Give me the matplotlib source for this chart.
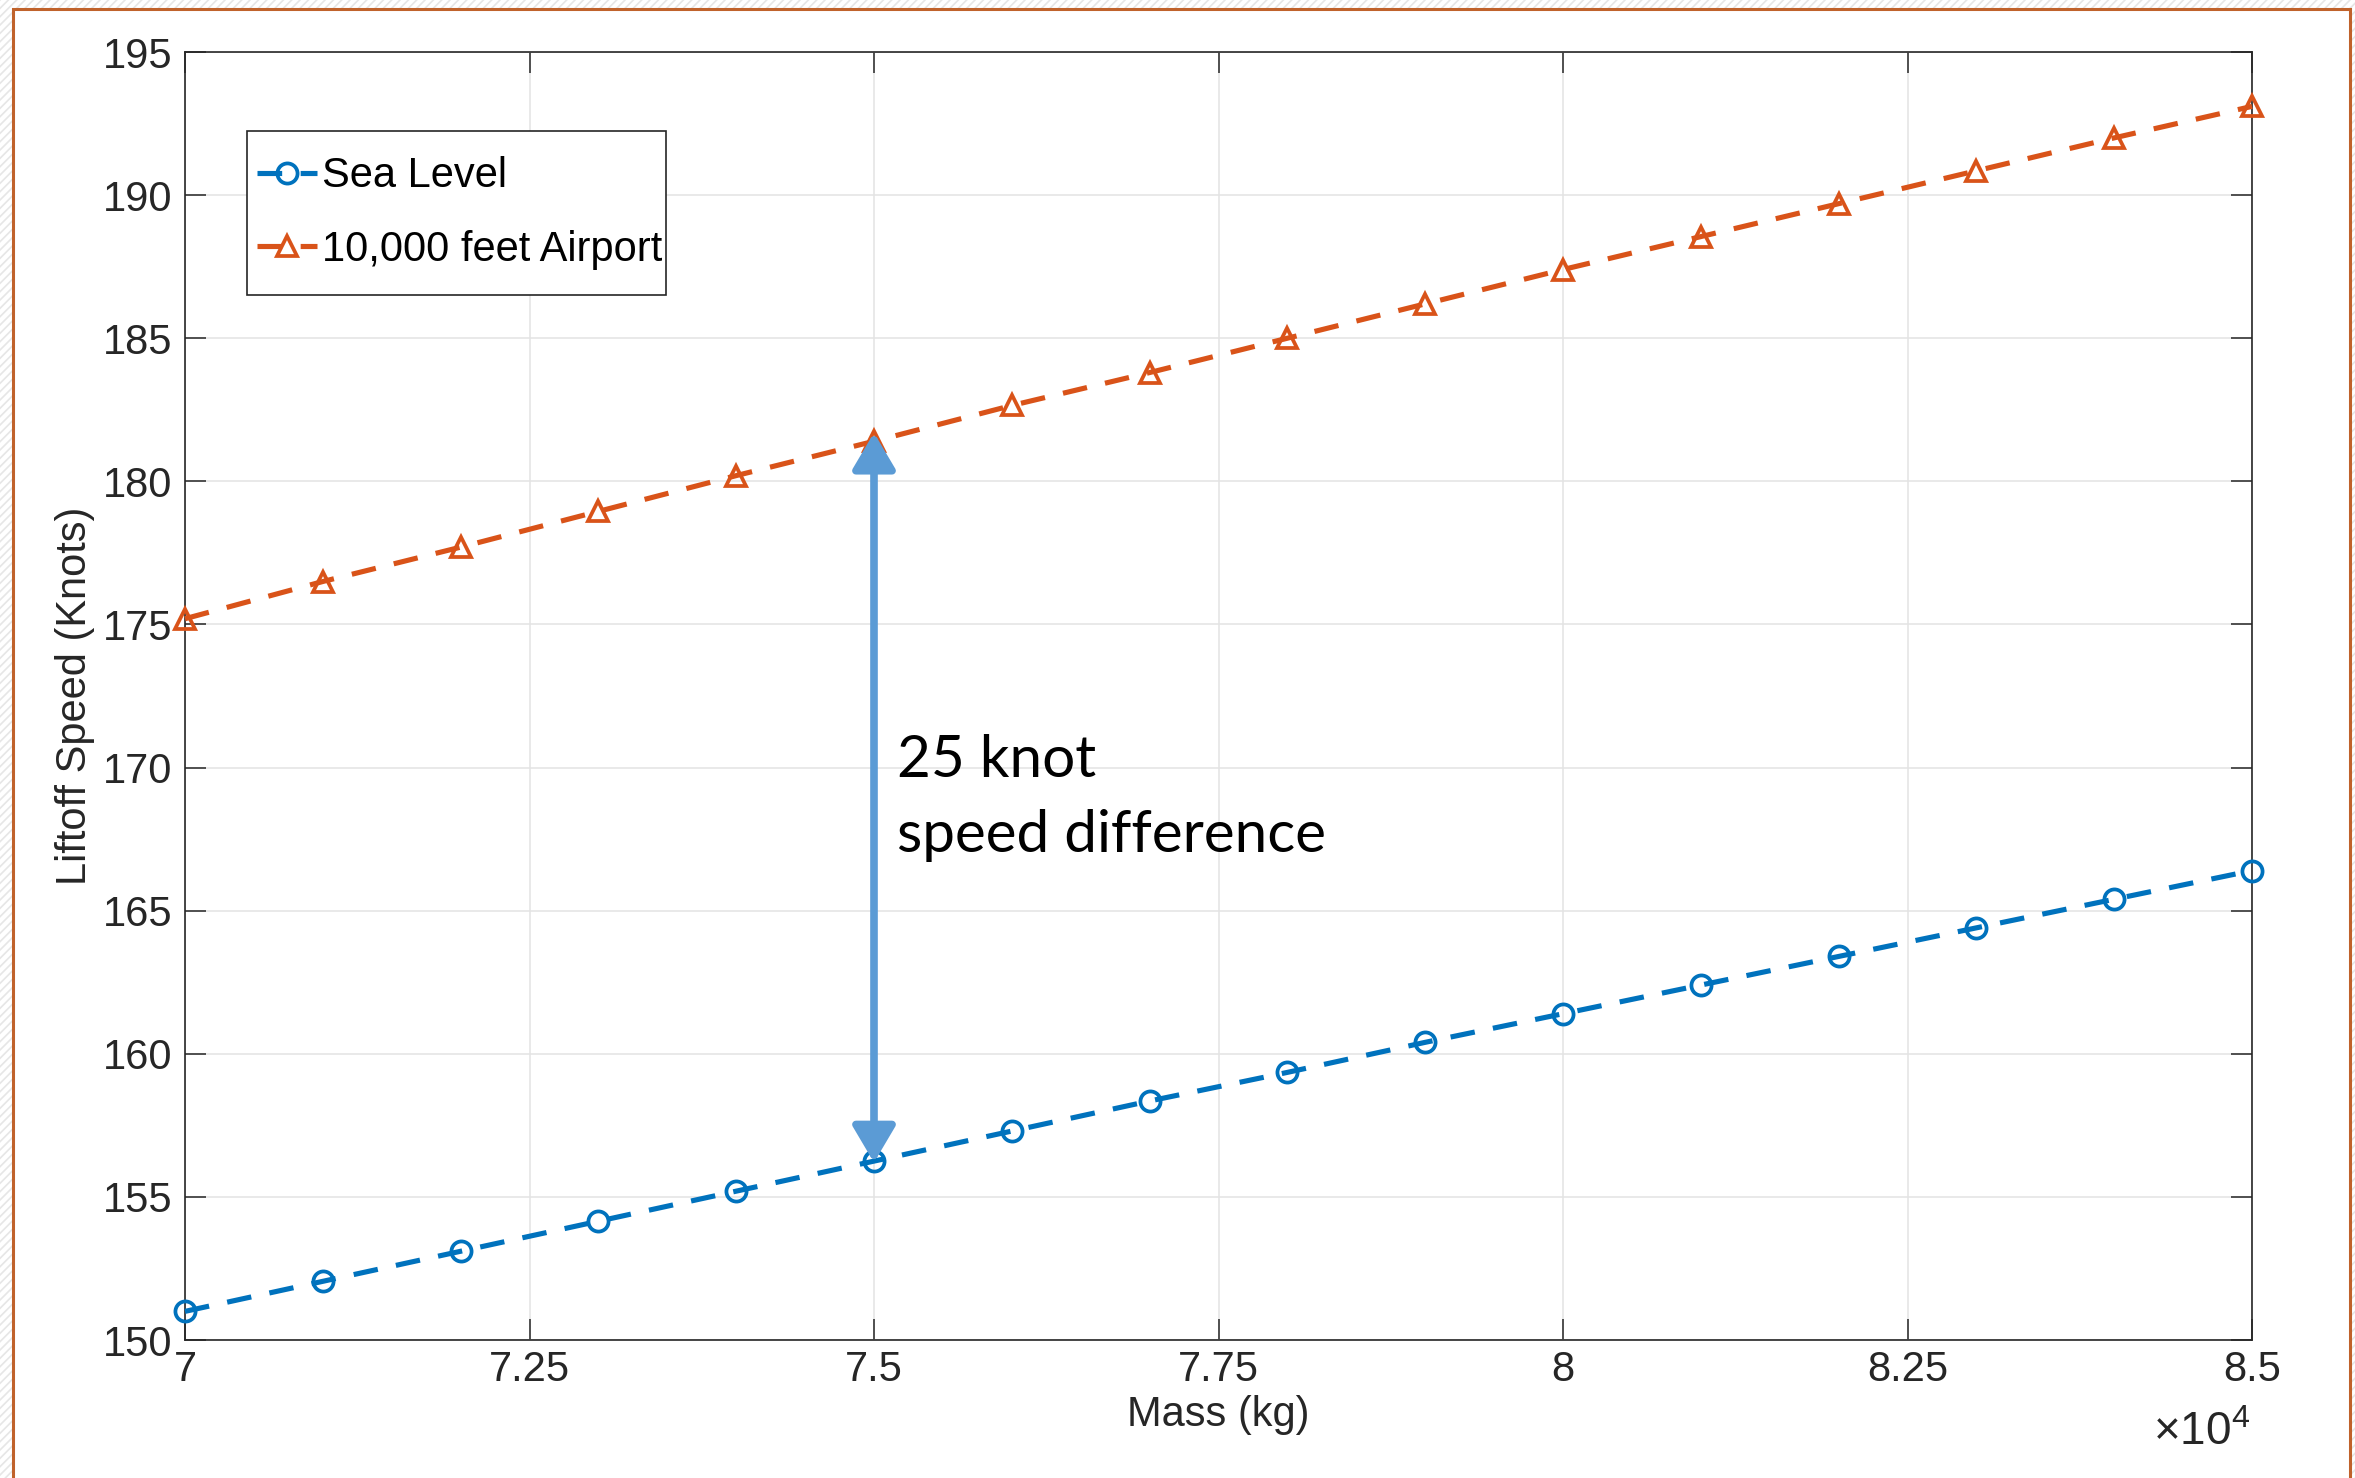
import matplotlib
matplotlib.use("Agg")
import matplotlib.pyplot as plt
from matplotlib.patches import Rectangle
from matplotlib.ticker import FuncFormatter, MultipleLocator

# ---- data ----
mass_kg = [70000, 71000, 72000, 73000, 74000, 75000, 76000, 77000,
           78000, 79000, 80000, 81000, 82000, 83000, 84000, 85000]
sea_level = [151.0, 152.05, 153.1, 154.15, 155.2, 156.25, 157.3, 158.35,
             159.35, 160.4, 161.4, 162.4, 163.4, 164.4, 165.4, 166.4]
airport_10k = [175.2, 176.5, 177.7, 178.95, 180.2, 181.4, 182.65, 183.8,
               185.0, 186.2, 187.4, 188.55, 189.7, 190.85, 192.0, 193.1]
series_labels = ["Sea Level", "10,000 feet Airport"]
annot_mass = 75000
annot_text = "25 knot\nspeed difference"
x_label = "Mass (kg)"
y_label = "Liftoff Speed (Knots)"

W, H = 2355, 1478
plt.rcParams['font.family'] = ['Liberation Sans', 'DejaVu Sans']
plt.rcParams['mathtext.fontset'] = 'custom'
plt.rcParams['mathtext.rm'] = 'Liberation Sans'
plt.rcParams['mathtext.it'] = 'Liberation Sans'
plt.rcParams['hatch.linewidth'] = 1.2
plt.rcParams['hatch.color'] = '#e6e6e6'

fig = plt.figure(figsize=(W / 100, H / 100), dpi=100)

# slide background: hatched outside, white framed area
bg = Rectangle((0, 0), 1, 1, transform=fig.transFigure, facecolor='white',
               edgecolor='#e6e6e6', hatch='////', lw=0, zorder=-10)
fig.patches.append(bg)
frame = Rectangle((13 / W, -0.05), (2350 - 13) / W, 1.05 - 9 / H,
                  transform=fig.transFigure, facecolor='white',
                  edgecolor='#C0622B', lw=2.2, zorder=-9)
fig.patches.append(frame)

L, R, T, B = 185, 2252, 52, 1340
ax = fig.add_axes([L / W, 1 - B / H, (R - L) / W, (B - T) / H])

dk = '#262626'
blue = '#0072BD'
orange = '#D95319'

line_kw = dict(lw=3.7, ls=(0, (4.8, 3.6)), dash_capstyle='butt', ms=14.5,
               mew=2.7, mfc='none', zorder=3, clip_on=False)
ax.plot(mass_kg, sea_level, color=blue, marker='o', label=series_labels[0],
        **line_kw)
ax.plot(mass_kg, airport_10k, color=orange, marker='^',
        label=series_labels[1], **line_kw)

ax.set_xlim(70000, 85000)
ax.set_ylim(150, 195)
ax.xaxis.set_major_locator(MultipleLocator(2500))
ax.yaxis.set_major_locator(MultipleLocator(5))
ax.xaxis.set_major_formatter(FuncFormatter(lambda v, p: f"{v / 1e4:g}"))

ax.grid(True, color='#e3e3e3', lw=1.1, zorder=0)
ax.set_axisbelow(True)
for s in ax.spines.values():
    s.set_color(dk)
    s.set_linewidth(1.2)
ax.tick_params(axis='both', which='major', direction='in', length=15,
               width=1.1, color=dk, labelcolor=dk, labelsize=30,
               top=True, right=True)
ax.tick_params(axis='y', pad=9)
ax.tick_params(axis='x', pad=7)

ax.set_xlabel(x_label, fontsize=30, color=dk)
ax.set_ylabel(y_label, fontsize=30, color=dk)
ax.xaxis.set_label_coords(0.5, -(1395 - B) / (B - T))
ax.yaxis.set_label_coords(-(185 - 95) / (R - L), 0.5)

fig.text(2250 / W, 1 - 1445 / H, r'$\times10^{4}$', fontsize=33, color=dk,
         ha='right', va='baseline')

# legend content without its own frame; the box is drawn around it below
leg = ax.legend(loc='upper left',
                bbox_to_anchor=((257 - L) / (R - L), (B - 156.5) / (B - T)),
                borderaxespad=0, fontsize=30, frameon=False,
                handlelength=1.45, handletextpad=0.1, labelspacing=0.8,
                borderpad=0)
for t in leg.get_texts():
    t.set_color('black')

# annotation arrow between the two series at the chosen mass
i = mass_kg.index(annot_mass)
ax.annotate('', xy=(annot_mass, airport_10k[i] + 0.3),
            xytext=(annot_mass, sea_level[i] - 0.05),
            arrowprops=dict(arrowstyle='<|-|>,head_length=22,head_width=13',
                            color='#5B9BD5', lw=5.5, shrinkA=0, shrinkB=0,
                            mutation_scale=1), zorder=5)
ax.annotate(annot_text, xy=(annot_mass, 167.05), xytext=(16.5, 0),
            textcoords='offset points', ha='left', va='baseline',
            fontsize=42, family=['Lato', 'DejaVu Sans'], color='black',
            linespacing=1.5, zorder=6)

fig.canvas.draw()
ext = leg.get_window_extent()
pl, pr, pt, pb = 10, 4, 25, 25.5
box = Rectangle((ext.x0 - pl, ext.y0 - pb), ext.width + pl + pr,
                ext.height + pt + pb, transform=None, facecolor='white',
                edgecolor=dk, lw=1.2, zorder=4.5)
ax.add_artist(box)
leg.set_zorder(5)

fig.savefig('out.png', dpi=100)
